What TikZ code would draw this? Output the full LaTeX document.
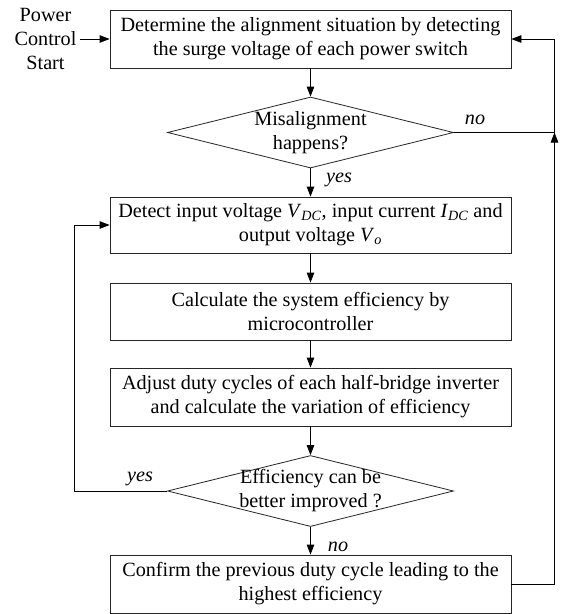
\documentclass[tikz,border=0pt]{standalone}
\usepackage{fontspec}
\setmainfont{Liberation Serif}
\usetikzlibrary{shapes.geometric,arrows.meta}
\newcommand{\vsub}[2]{\textit{#1}\textsubscript{\textit{#2}}}
\begin{document}
\begin{tikzpicture}[x=1pt,y=1pt,
  box/.style={draw=black!85, line width=0.8pt, minimum width=401pt, inner sep=0pt, align=center, font=\fontsize{20.2}{24}\selectfont},
  dia/.style={draw=black!85, diamond, line width=0.8pt, minimum width=286pt, minimum height=71pt, inner sep=0pt},
  txt/.style={align=center, inner sep=0pt, font=\fontsize{20.2}{24}\selectfont},
  lbl/.style={inner sep=0pt, font=\fontsize{20.2}{24}\selectfont\itshape},
  arr/.style={-{Triangle[length=10pt,width=7.5pt]}, line width=0.8pt},
  ln/.style={line width=0.8pt}]
\useasboundingbox (0,0) rectangle (565,-614);
\fill[white] (0,0) rectangle (565,-614);

\node[txt] (start) at (45.5,-39) {Power\\Control\\Start};
\node[box, minimum height=58pt] (b1) at (310.5,-39) {Determine the alignment situation by detecting\\the surge voltage of each power switch};
\node[dia] (d1) at (310.5,-132.5) {};
\node[txt] (d1t) at (d1) {Misalignment\\happens?};
\node[box, minimum height=56pt] (b2) at (310.5,-225) {Detect input voltage \vsub{V}{DC}, input current \vsub{I}{DC} and\\output voltage \vsub{V}{o}};
\node[box, minimum height=57pt] (b3) at (310.5,-311.5) {Calculate the system efficiency by\\microcontroller};
\node[box, minimum height=58pt] (b4) at (310.5,-397) {Adjust duty cycles of each half-bridge inverter\\and calculate the variation of efficiency};
\node[dia] (d2) at (310.5,-491) {};
\node[txt] (d2t) at (d2) {Efficiency can be\\better improved ?};
\node[box, minimum height=58pt] (b5) at (310.5,-584) {Confirm the previous duty cycle leading to the\\highest efficiency};

\coordinate (jr) at (554.5,-132.5);
\coordinate (rb) at (554.5,-584);
\coordinate (rt) at (554.5,-39);
\coordinate (lb) at (74,-491);
\coordinate (lt) at (74,-225);

\draw[arr] (start.east) ++(3pt,0) coordinate (s0) -- (b1.west);
\draw[arr] (b1.south) -- (d1.north);
\draw[arr] (d1.south) -- (b2.north);
\draw[arr] (b2.south) -- (b3.north);
\draw[arr] (b3.south) -- (b4.north);
\draw[arr] (b4.south) -- (d2.north);
\draw[arr] (d2.south) -- (b5.north);
\draw[ln] (d1.east) -- (jr);
\draw[arr] (b5.east) -- (rb) -- (jr);
\draw[arr] (jr) -- (rt) -- (b1.east);
\draw[arr] (d2.west) -- (lb) -- (lt) -- (b2.west);

\node[lbl] (no1) at (475,-120) {no};
\node[lbl] (yes1) at (339,-180) {yes};
\node[lbl] (yes2) at (140,-479) {yes};
\node[lbl] (no2) at (338,-547) {no};
\end{tikzpicture}
\end{document}
